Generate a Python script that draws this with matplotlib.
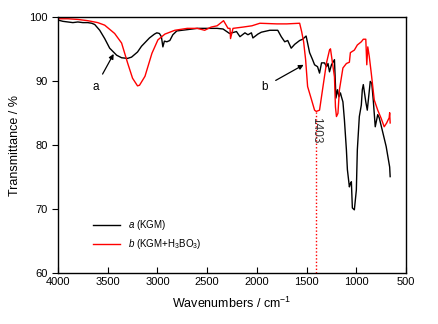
import matplotlib
matplotlib.use("Agg")
import matplotlib.pyplot as plt

plt.rcParams["font.family"] = ["Liberation Sans", "DejaVu Sans"]
plt.rcParams["mathtext.fontset"] = "custom"
plt.rcParams["mathtext.rm"] = "Liberation Sans"
plt.rcParams["mathtext.it"] = "Liberation Sans:italic"

# spectrum a (KGM)
wn_a = [4000, 3950, 3900, 3850, 3800, 3750, 3700, 3660, 3630, 3580, 3530, 3480,
        3410, 3360, 3300, 3260, 3200, 3160, 3080, 3030, 3006, 2980, 2960, 2945,
        2930, 2905, 2875, 2845, 2805, 2700, 2600, 2500, 2400, 2340, 2275, 2205,
        2170, 2120, 2090, 2055, 2040, 1990, 1955, 1870, 1790, 1755, 1720, 1690,
        1655, 1620, 1570, 1540, 1505, 1470, 1440, 1420, 1390, 1370, 1350, 1320,
        1300, 1285, 1270, 1250, 1220, 1205, 1190, 1175, 1160, 1150, 1135, 1120,
        1100, 1090, 1070, 1060, 1050, 1040, 1020, 1000, 990, 970, 950, 940, 930,
        905, 890, 860, 845, 830, 810, 785, 770, 740, 700, 665, 660]
t_a = [99.6, 99.4, 99.3, 99.2, 99.3, 99.2, 99.2, 99.1, 98.9, 98.0, 96.7, 95.2,
       94.1, 93.7, 93.6, 93.8, 94.6, 95.5, 96.8, 97.4, 97.6, 97.5, 97.0, 95.4,
       96.3, 96.2, 96.4, 97.3, 97.9, 98.1, 98.3, 98.3, 98.3, 98.2, 97.5, 97.8,
       97.0, 97.6, 97.3, 97.6, 96.8, 97.4, 97.7, 98.0, 98.0, 97.0, 96.2, 96.4,
       95.2, 95.8, 96.4, 96.6, 97.1, 94.5, 93.4, 92.6, 92.3, 91.3, 92.9, 92.9,
       92.3, 92.8, 91.5, 92.6, 93.4, 87.4, 88.7, 87.6, 88.2, 87.6, 86.8, 84.0,
       79.3, 76.2, 73.5, 74.0, 74.3, 70.2, 69.9, 73.0, 79.3, 84.5, 86.3, 88.7,
       89.5, 86.8, 85.5, 90.0, 89.7, 87.1, 82.9, 84.8, 84.3, 82.4, 79.8, 76.6,
       75.1]

# spectrum b (KGM+H3BO3)
wn_b = [4000, 3900, 3800, 3700, 3600, 3530, 3430, 3360, 3300, 3250, 3200, 3180,
        3125, 3055, 2995, 2925, 2825, 2700, 2600, 2525, 2460, 2400, 2335, 2290,
        2270, 2265, 2240, 2140, 2050, 1970, 1800, 1700, 1570, 1550, 1530, 1510,
        1490, 1450, 1420, 1403, 1370, 1340, 1300, 1270, 1260, 1240, 1220, 1210,
        1200, 1185, 1170, 1135, 1100, 1070, 1060, 1020, 990, 950, 930, 905, 895,
        885, 870, 850, 835, 820, 785, 750, 720, 695, 680, 670, 665, 660]
t_b = [99.8, 99.8, 99.7, 99.5, 99.2, 98.8, 97.5, 96.0, 92.9, 90.5, 89.3, 89.4,
       90.8, 94.4, 96.5, 97.4, 98.0, 98.3, 98.3, 98.0, 98.5, 98.7, 99.5, 98.3,
       98.3, 96.7, 98.3, 98.5, 98.7, 99.1, 99.0, 99.0, 99.1, 97.8, 96.2, 93.4,
       89.2, 87.1, 85.5, 85.3, 85.5, 88.7, 92.9, 94.9, 95.1, 92.9, 90.7, 86.0,
       84.5, 85.0, 88.7, 92.1, 92.8, 93.0, 94.5, 94.9, 95.7, 96.2, 96.6, 96.6,
       92.6, 95.4, 93.9, 91.3, 89.2, 87.1, 85.5, 84.2, 82.9, 83.5, 84.0, 84.3,
       85.1, 83.5]

peak_wn = 1403
peak_t = 85.3

fig = plt.figure(figsize=(4.39, 3.24), dpi=100)
ax = fig.add_axes([0.132, 0.157, 0.793, 0.789])

ax.plot(wn_a, t_a, color="black", lw=1.0, label=r"$a$ (KGM)")
ax.plot(wn_b, t_b, color="red", lw=1.0, label=r"$b$ (KGM+H$_3$BO$_3$)")

# marker line for the 1403 band
ax.plot([peak_wn, peak_wn], [60, peak_t], color="red", lw=1.0, ls=(0, (1, 1.5)))
ax.text(peak_wn, 82.3, "1403", rotation=270, ha="center", va="center",
        fontsize=8.5, color="#333333")

ax.annotate("a", xy=(3440, 94.3), xytext=(3620, 89.2), fontsize=8.5,
            ha="center", va="center",
            arrowprops=dict(arrowstyle="-|>", color="black", lw=0.9,
                            mutation_scale=7, shrinkA=3, shrinkB=0))
ax.annotate("b", xy=(1530, 92.6), xytext=(1920, 89.2), fontsize=8.5,
            ha="center", va="center",
            arrowprops=dict(arrowstyle="-|>", color="black", lw=0.9,
                            mutation_scale=7, shrinkA=4, shrinkB=0))

ax.set_xlim(4000, 500)
ax.set_ylim(60, 100)
ax.set_xticks([4000, 3500, 3000, 2500, 2000, 1500, 1000, 500])
ax.set_yticks([60, 70, 80, 90, 100])
ax.tick_params(axis="x", direction="in", length=4, labelsize=8, pad=3)
ax.tick_params(axis="y", direction="out", length=4, labelsize=8)
ax.set_xlabel("Wavenumbers / cm$^{-1}$", fontsize=9, labelpad=6)
ax.set_ylabel("Transmittance / %", fontsize=9, labelpad=6)
for s in ax.spines.values():
    s.set_linewidth(1.0)

ax.legend(loc="lower left", bbox_to_anchor=(0.09, 0.07), frameon=False,
          fontsize=7, handlelength=2.8, labelspacing=0.5, borderaxespad=0)

fig.savefig("out.png", dpi=100)
